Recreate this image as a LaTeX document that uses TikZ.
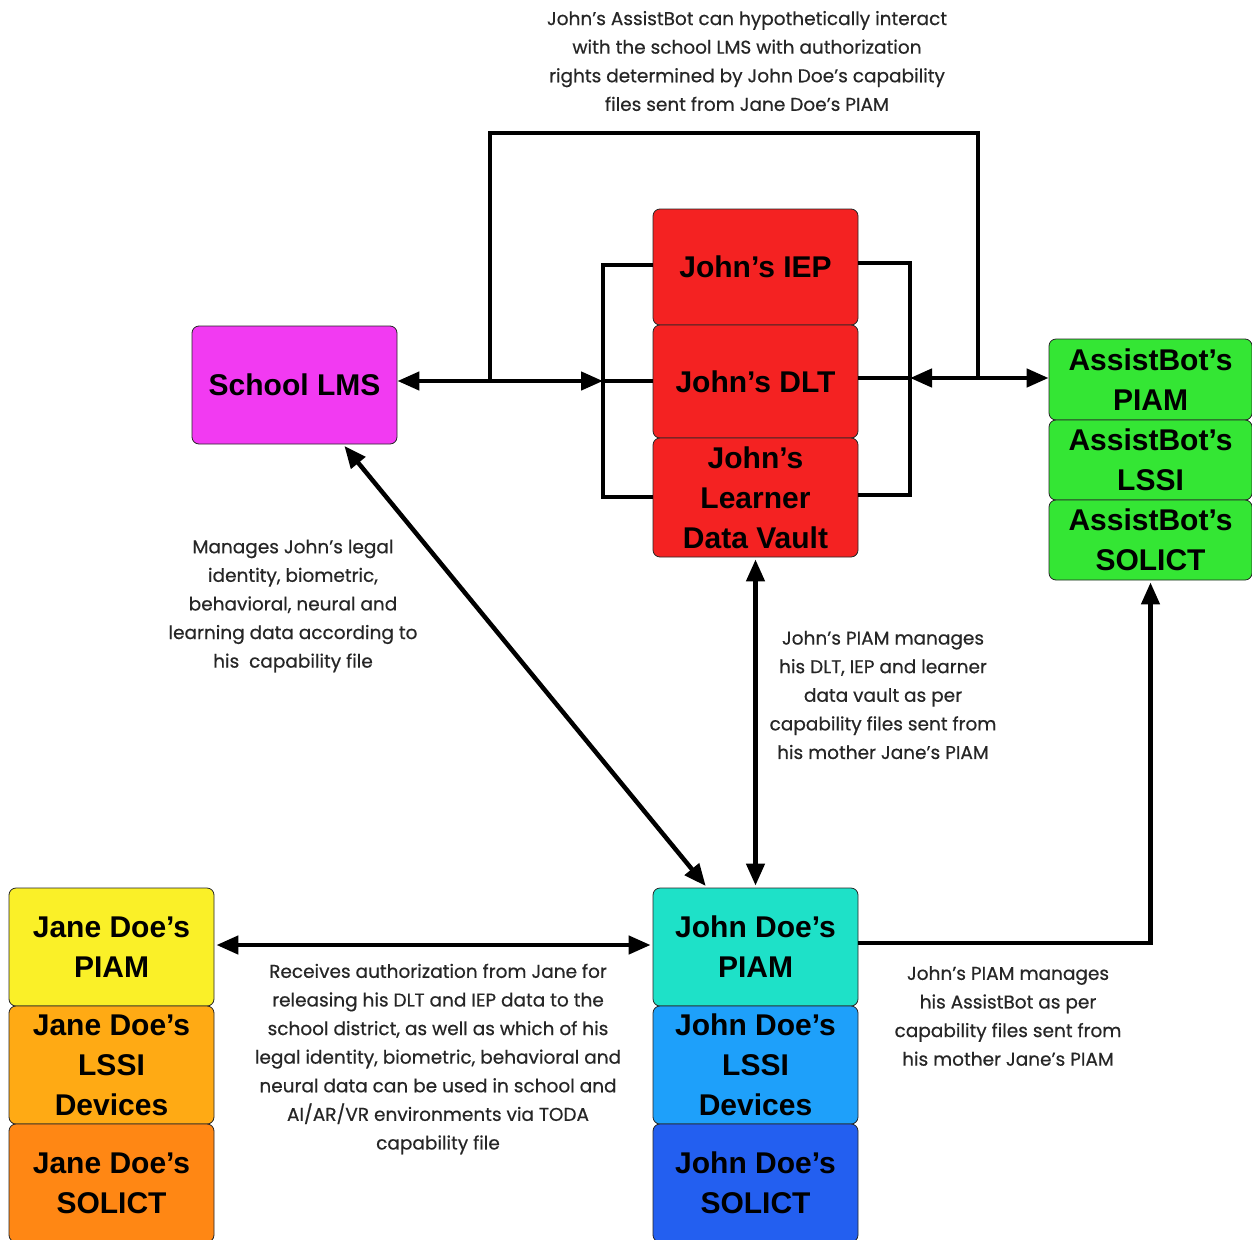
\documentclass[tikz,border=0pt]{standalone}
\usepackage{fontspec}
\setmainfont{Liberation Sans}
\newfontfamily\notefont[BoldFont=Poppins, BoldFeatures={FakeBold=0.5}]{Poppins}
\usetikzlibrary{arrows.meta,calc}

\definecolor{vaultred}{RGB}{244,34,34}
\definecolor{lmspink}{RGB}{242,58,242}
\definecolor{botgreen}{RGB}{52,230,52}
\definecolor{janeyellow}{RGB}{250,240,40}
\definecolor{janeorange}{RGB}{255,170,20}
\definecolor{janedeep}{RGB}{255,135,20}
\definecolor{johncyan}{RGB}{30,225,200}
\definecolor{johnblue}{RGB}{30,160,250}
\definecolor{johndeep}{RGB}{35,95,240}

\tikzset{
  box/.style={draw=black!85, line width=0.8pt, rounded corners=7pt,
    inner sep=0pt, align=center, text=black,
    font=\bfseries\fontsize{30}{40}\selectfont},
  note/.style={align=center, inner sep=0pt, text=black!85,
    font=\notefont\bfseries\fontsize{18.5}{28.6}\selectfont},
  wire/.style={line width=4.5pt},
  tip/.style={-{Triangle[length=22pt,width=18pt]}},
  tips/.style={{Triangle[length=22pt,width=18pt]}-{Triangle[length=22pt,width=18pt]}}
}

\begin{document}
\begin{tikzpicture}[x=1pt,y=-1pt]
\useasboundingbox (0,0) rectangle (1252,1239);

% --- component stacks ---
\node[box, fill=lmspink, minimum width=205pt, minimum height=118pt] (lms) at (294.5,385) {School LMS};

\node[box, fill=vaultred, minimum width=205pt, minimum height=116pt] (iep) at (755.5,267) {John’s IEP};
\node[box, fill=vaultred, minimum width=205pt, minimum height=113pt] (dlt) at (755.5,381.5) {John’s DLT};
\node[box, fill=vaultred, minimum width=205pt, minimum height=119pt] (vault) at (755.5,497.5) {John’s\\Learner\\Data Vault};

\node[box, fill=botgreen, minimum width=203pt, minimum height=81pt] (abp) at (1150.5,379.5) {AssistBot’s\\PIAM};
\node[box, fill=botgreen, minimum width=203pt, minimum height=80pt] (abl) at (1150.5,460) {AssistBot’s\\LSSI};
\node[box, fill=botgreen, minimum width=203pt, minimum height=80pt] (abs) at (1150.5,540) {AssistBot’s\\SOLICT};

\node[box, fill=janeyellow, minimum width=205pt, minimum height=118pt] (jnp) at (111.5,947) {Jane Doe’s\\PIAM};
\node[box, fill=janeorange, minimum width=205pt, minimum height=118pt] (jnl) at (111.5,1065) {Jane Doe’s\\LSSI\\Devices};
\node[box, fill=janedeep, minimum width=205pt, minimum height=118pt] (jns) at (111.5,1183) {Jane Doe’s\\SOLICT};

\node[box, fill=johncyan, minimum width=205pt, minimum height=118pt] (jhp) at (755.5,947) {John Doe’s\\PIAM};
\node[box, fill=johnblue, minimum width=205pt, minimum height=118pt] (jhl) at (755.5,1065) {John Doe’s\\LSSI\\Devices};
\node[box, fill=johndeep, minimum width=205pt, minimum height=118pt] (jhs) at (755.5,1183) {John Doe’s\\SOLICT};

% --- bracket joints ---
\coordinate (lbus) at (603,381);
\coordinate (rbus) at (910,378);
\coordinate (ltop) at (490,133);
\coordinate (rtop) at (978,133);
\coordinate (ljoin) at (490,381);
\coordinate (rjoin) at (978,378);

% left bracket around the red stack
\draw[wire] (iep.west |- 0,265) -- (603,265) -- (603,497) -- (vault.west |- 0,497);
\draw[wire] (lbus) -- (dlt.west |- lbus);
% right bracket around the red stack
\draw[wire] (iep.east |- 0,263) -- (910,263) -- (910,495) -- (vault.east |- 0,495);
\draw[wire] (dlt.east |- rbus) -- (rbus);

% LMS to the red stack, and to AssistBot
\draw[wire, tips] (lms.east |- lbus) -- (lbus);
\draw[wire, tips] (rbus) -- (abp.west |- rbus);
\draw[wire, line cap=rect] (ljoin) -- (ltop) -- (rtop) -- (rjoin);

% links from John Doe's PIAM
\draw[wire, tips, shorten <=2pt, shorten >=2pt] (lms) -- (jhp);
\draw[wire, tips, shorten <=2pt, shorten >=2pt] (vault.south) -- (jhp.north);
\draw[wire, tips, shorten <=2pt, shorten >=2pt] (jnp.east |- 0,945) -- (jhp.west |- 0,945);
\draw[wire, tip, shorten >=2pt] (jhp.east |- 0,943) -| (abs.south);

% --- notes ---
\node[note] (ntop) at (747,61) {John’s AssistBot can hypothetically interact\\with the school LMS with authorization\\rights determined by John Doe’s capability\\files sent from Jane Doe’s PIAM};
\node[note] (nlms) at (293,606) {Manages John’s legal\\identity, biometric,\\behavioral, neural and\\learning data according to\\his\ \ capability file};
\node[note] (nvault) at (883,695) {John’s PIAM manages\\his DLT, IEP and learner\\data vault as per\\capability files sent from\\his mother Jane’s PIAM};
\node[note] (njane) at (438,1059) {Receives authorization from Jane for\\releasing his DLT and IEP data to the\\school district, as well as which of his\\legal identity, biometric, behavioral and\\neural data can be used in school and\\AI/AR/VR environments via TODA\\capability file};
\node[note] (nbot) at (1008,1016) {John’s PIAM manages\\his AssistBot as per\\capability files sent from\\his mother Jane’s PIAM};
\end{tikzpicture}
\end{document}
